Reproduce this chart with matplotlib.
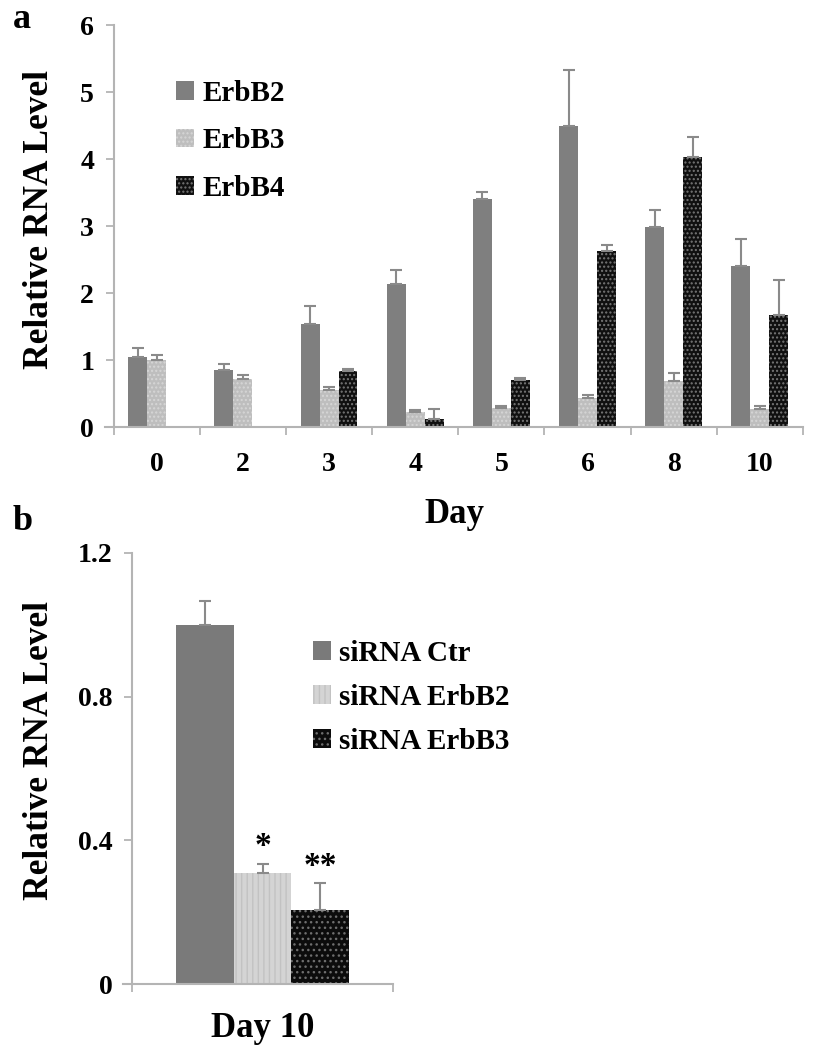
import numpy as np
import matplotlib
matplotlib.use('Agg')
from matplotlib import pyplot as plt

# panel a: relative RNA level over days
days = ['0', '2', '3', '4', '5', '6', '8', '10']
erbb2 = [1.05, 0.85, 1.54, 2.14, 3.40, 4.50, 2.98, 2.41]
erbb2_err = [0.13, 0.09, 0.27, 0.20, 0.11, 0.83, 0.26, 0.40]
erbb3 = [1.00, 0.72, 0.55, 0.22, 0.29, 0.43, 0.69, 0.27]
erbb3_err = [0.07, 0.06, 0.04, 0.03, 0.03, 0.05, 0.12, 0.04]
erbb4 = [np.nan, np.nan, 0.84, 0.12, 0.70, 2.62, 4.03, 1.67]
erbb4_err = [np.nan, np.nan, 0.03, 0.15, 0.03, 0.10, 0.30, 0.52]

# panel b: siRNA knockdown at day 10
sirna_labels = ['siRNA Ctr', 'siRNA ErbB2', 'siRNA ErbB3']
sirna_vals = [1.00, 0.31, 0.205]
sirna_err = [0.065, 0.025, 0.075]
sirna_marks = ['', '*', '**']

plt.rcParams['font.family'] = ['Liberation Serif', 'DejaVu Serif']
plt.rcParams['font.weight'] = 'bold'
plt.rcParams['hatch.linewidth'] = 1.0

SPINE = '#b4b4b4'
ERR = '#8a8a8a'

fig = plt.figure(figsize=(8.17, 10.5), dpi=100)


def px(x, y):
    return x / 817, 1 - y / 1050


def style_axes(ax):
    for s in ['top', 'right']:
        ax.spines[s].set_visible(False)
    for s in ['left', 'bottom']:
        ax.spines[s].set_color(SPINE)
        ax.spines[s].set_linewidth(1.5)
    ax.tick_params(which='major', direction='out', length=6, width=1.3, color=SPINE,
                   labelsize=20, pad=8)
    ax.tick_params(axis='x', which='minor', length=0, labelsize=20, pad=18)
    ax.set_facecolor('none')


# ---- panel a
ax = fig.add_axes([105 / 817, 1 - 427 / 1050, 698 / 817, 402 / 1050])
x = np.arange(len(days))
w = 0.22
styles = [
    dict(color='#7f7f7f'),
    dict(facecolor='#bebebe', edgecolor='#d6d6d6', hatch='....', linewidth=0),
    dict(facecolor='#101010', edgecolor='#777777', hatch='....', linewidth=0),
]
series = [(erbb2, erbb2_err, 'ErbB2'), (erbb3, erbb3_err, 'ErbB3'), (erbb4, erbb4_err, 'ErbB4')]
for i, (vals, errs, name) in enumerate(series):
    vals = np.array(vals)
    errs = np.array(errs)
    ok = ~np.isnan(vals)
    xs = x[ok] + (i - 1) * w
    ax.bar(xs, vals[ok], width=w, label=name, **styles[i])
    ax.errorbar(xs, vals[ok], yerr=[np.zeros(ok.sum()), errs[ok]], fmt='none',
                ecolor=ERR, elinewidth=1.5, capsize=4.5, capthick=1.5)

ax.set_xlim(-0.6, 7.5)
ax.set_ylim(0, 6)
ax.spines['left'].set_position(('data', -0.5))
ax.set_yticks(range(0, 7))
ax.set_xticks(np.arange(-0.5, 8, 1))
ax.set_xticklabels([])
ax.set_xticks(x, minor=True)
ax.set_xticklabels(days, minor=True)
style_axes(ax)
ax.set_xlabel('Day', fontsize=25, fontweight='bold', labelpad=15)
fig.text(*px(40, 219), 'Relative RNA Level', rotation=90, ha='center', va='center',
         fontsize=25.5, fontweight='bold')
ax.legend(loc='upper left', bbox_to_anchor=px(176, 80), bbox_transform=fig.transFigure,
          frameon=False, fontsize=21, handlelength=0.6, handleheight=0.6,
          handletextpad=0.3, labelspacing=0.7, borderpad=0, borderaxespad=0)
fig.text(*px(13, 20), 'a', fontsize=26, fontweight='bold', va='center')

# ---- panel b
bx = fig.add_axes([123 / 817, 1 - 984 / 1050, 270 / 817, 431 / 1050])
bstyles = [
    dict(color='#7a7a7a'),
    dict(facecolor='#d4d4d4', edgecolor='#c2c2c2', hatch='|||', linewidth=0),
    dict(facecolor='#0c0c0c', edgecolor='#6e6e6e', hatch='...', linewidth=0),
]
bw = 0.22
for i, (lab, v, e) in enumerate(zip(sirna_labels, sirna_vals, sirna_err)):
    xc = 0.5 + (i - 1) * bw
    bx.bar([xc], [v], width=bw, label=lab, **bstyles[i])
    bx.errorbar([xc], [v], yerr=[[0], [e]], fmt='none', ecolor=ERR,
                elinewidth=1.5, capsize=4.5, capthick=1.5)
    if sirna_marks[i]:
        bx.annotate(sirna_marks[i], (xc, v + e), xytext=(0, 1), textcoords='offset points',
                    ha='center', va='bottom', fontsize=24, fontweight='bold')

bx.set_xlim(-0.035, 1)
bx.set_ylim(0, 1.2)
bx.spines['left'].set_position(('data', 0))
bx.set_yticks([0, 0.4, 0.8, 1.2])
bx.set_yticklabels(['0', '0.4', '0.8', '1.2'])
bx.set_xticks([0, 1])
bx.set_xticklabels([])
bx.set_xticks([0.5], minor=True)
bx.set_xticklabels(['Day 10'], minor=True)
style_axes(bx)
bx.tick_params(axis='x', which='minor', labelsize=25, pad=20)
fig.text(*px(40, 750), 'Relative RNA Level', rotation=90, ha='center', va='center',
         fontsize=25.5, fontweight='bold')
bx.legend(loc='upper left', bbox_to_anchor=px(313, 640), bbox_transform=fig.transFigure,
          frameon=False, fontsize=21, handlelength=0.6, handleheight=0.6,
          handletextpad=0.3, labelspacing=0.58, borderpad=0, borderaxespad=0)
fig.text(*px(13, 522), 'b', fontsize=26, fontweight='bold', va='center')

fig.savefig('out.png', dpi=100, facecolor='white')
